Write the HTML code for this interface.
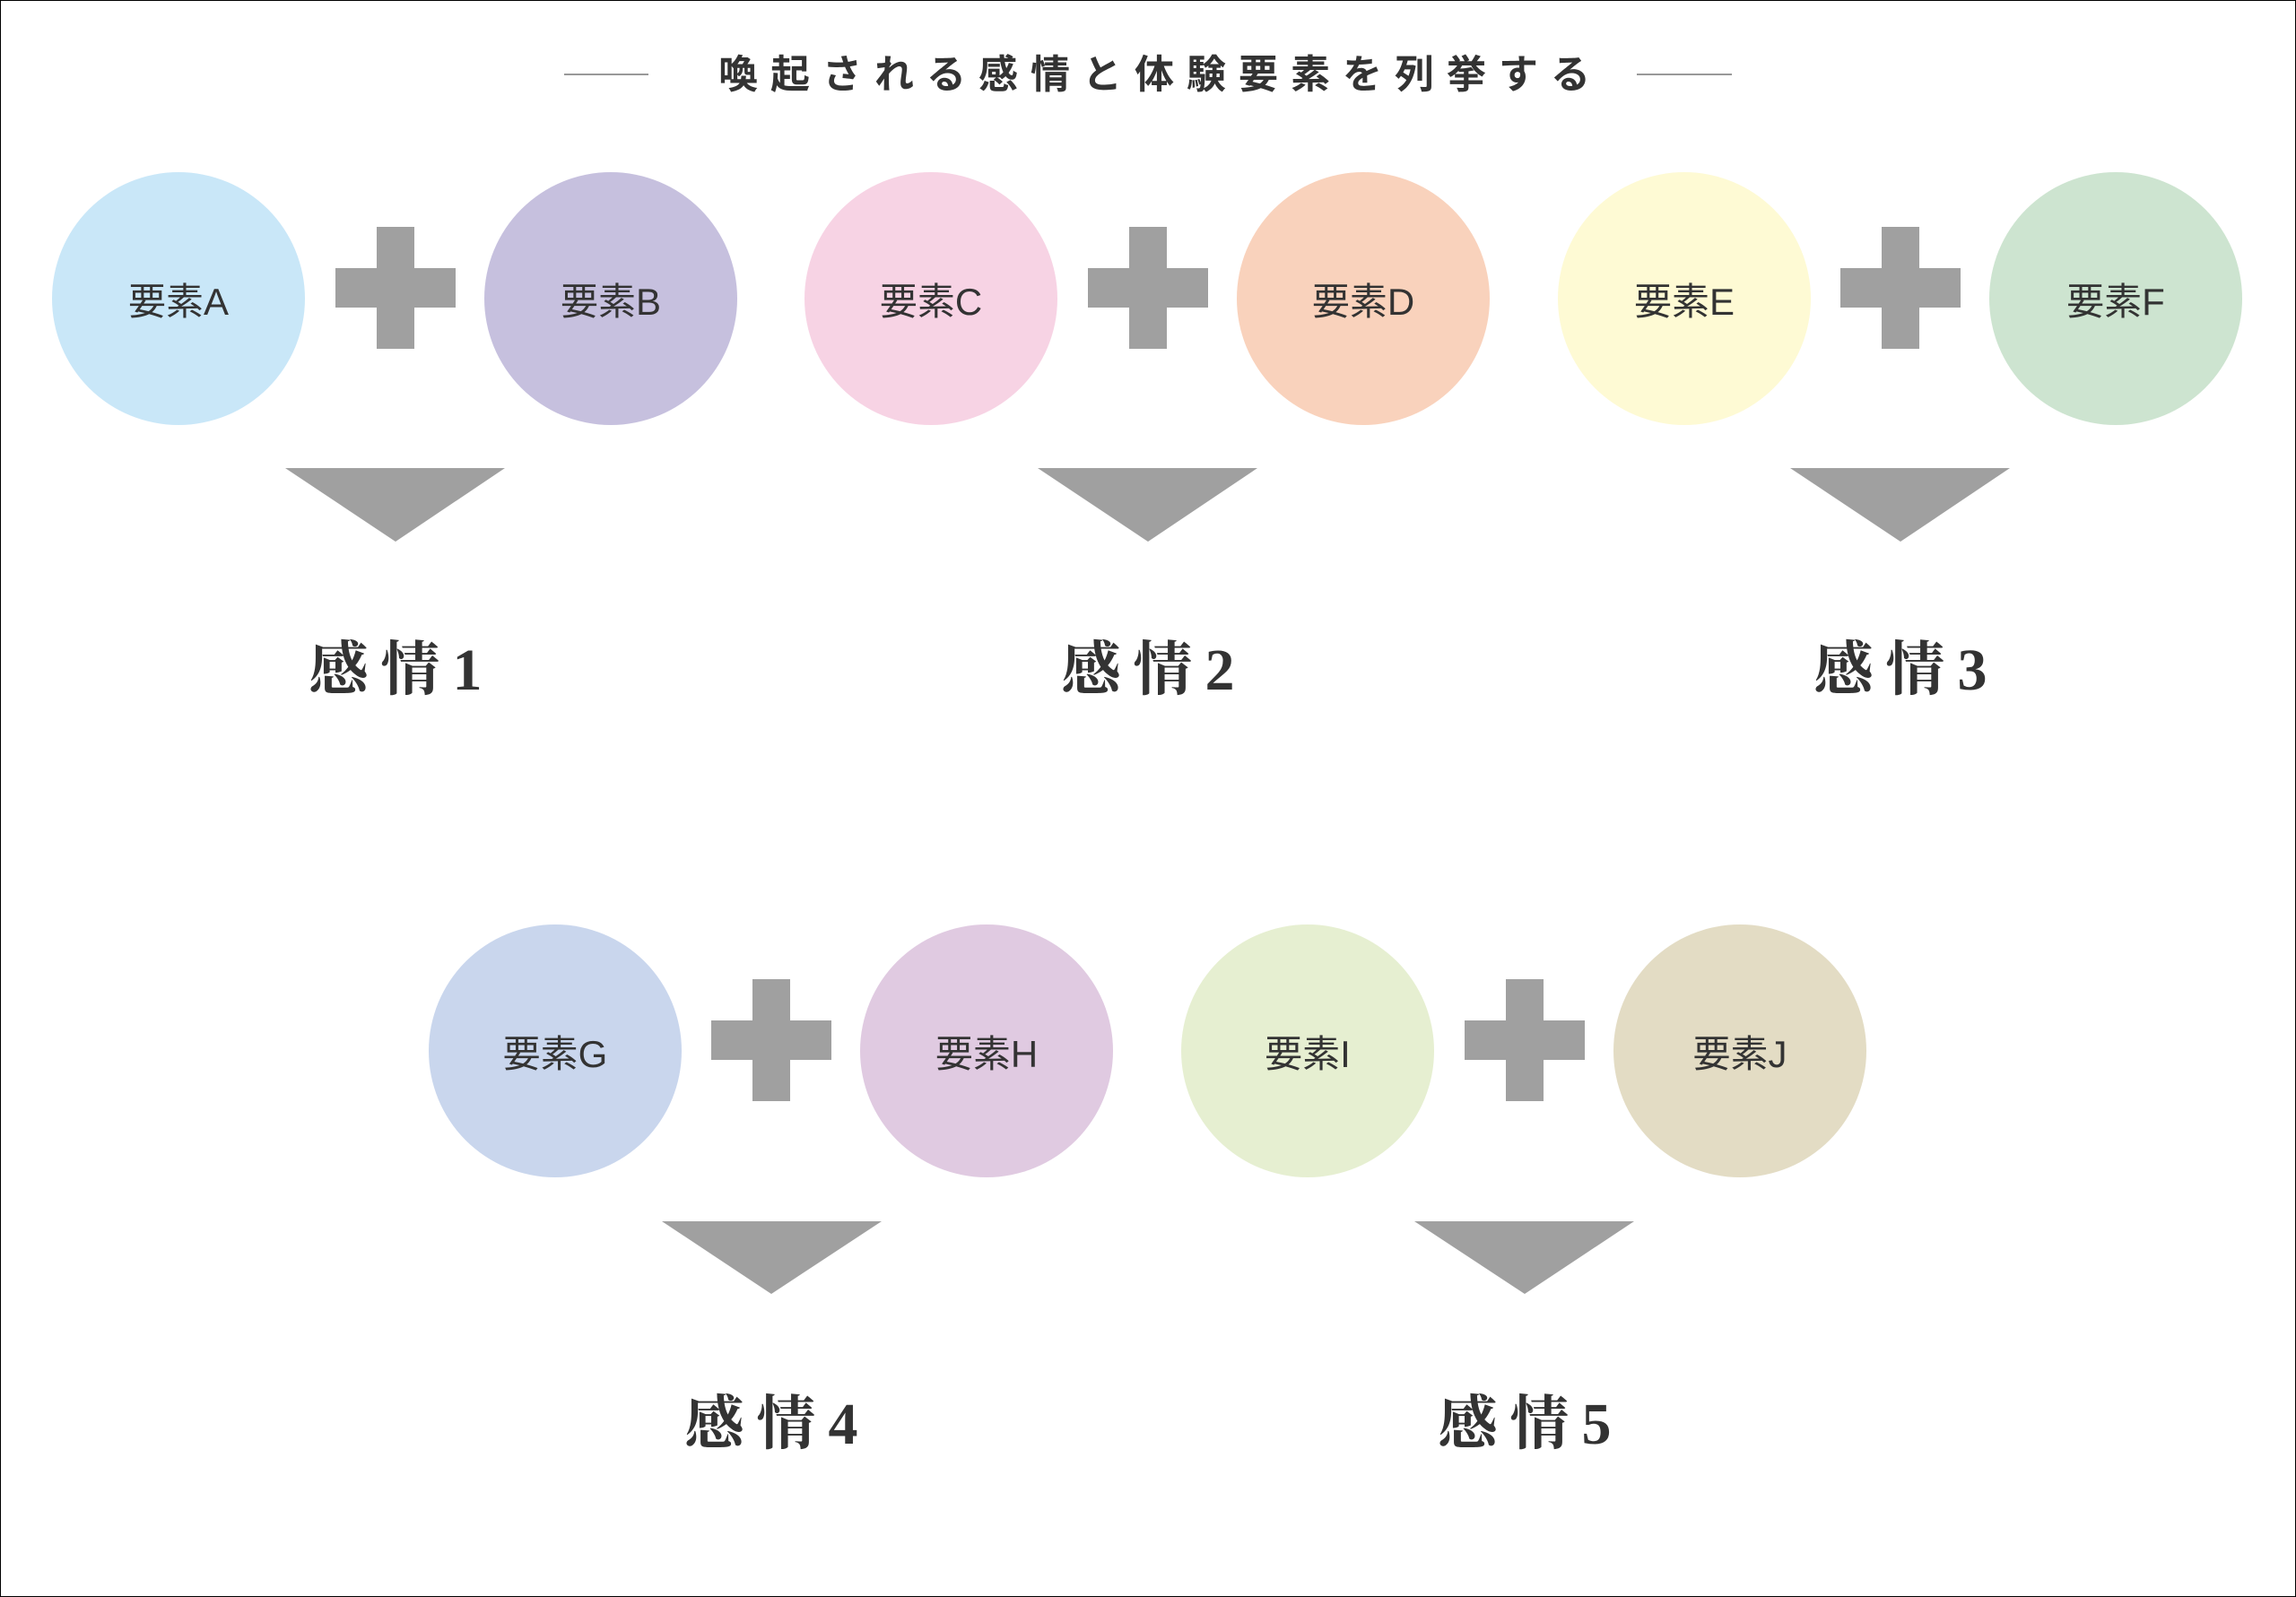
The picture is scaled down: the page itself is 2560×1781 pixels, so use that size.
<!DOCTYPE html>
<html><head><meta charset="utf-8"><style>
html,body{margin:0;padding:0}
body{width:2560px;height:1781px;position:relative;background:#fff;overflow:hidden;font-family:"Liberation Sans","Noto Sans CJK JP",sans-serif}
.frame{position:absolute;left:0;top:0;width:2558px;height:1779px;border:1px solid #000}
.t{position:absolute;left:740px;width:1080px;top:54px;text-align:center;font-size:44px;font-weight:bold;letter-spacing:14px;color:#333;line-height:60px;padding-left:14px}
.ln{position:absolute;height:2px;background:#999;top:82px}
.c{position:absolute;width:282px;height:282px;border-radius:50%;display:flex;align-items:center;justify-content:center;font-size:42px;color:#333}
.pv{position:absolute;width:42px;height:136px;background:#a0a0a0}
.ph{position:absolute;width:134px;height:44px;background:#a0a0a0}
.lb{position:absolute;width:300px;text-align:center;font-family:"Liberation Serif","Noto Serif CJK SC",serif;font-weight:bold;font-size:66px;color:#333;letter-spacing:14px;padding-left:14px;box-sizing:border-box;line-height:80px}
</style></head><body>
<div class="frame"></div>
<div class="ln" style="left:629px;width:94px"></div>
<div class="ln" style="left:1825px;width:106px"></div>
<div class="t">喚起される感情と体験要素を列挙する</div>
<svg width="2560" height="1781" style="position:absolute;left:0;top:0">
<g fill="#a0a0a0">
<polygon points="318,522 563,522 441,604"/>
<polygon points="1157,522 1402,522 1280,604"/>
<polygon points="1996,522 2241,522 2119,604"/>
<polygon points="738,1362 983,1362 860,1443"/>
<polygon points="1577,1362 1822,1362 1700,1443"/>
</g></svg>
<div class="c" style="left:58px;top:192px;background:#c9e7f8">要素A</div>
<div class="c" style="left:540px;top:192px;background:#c6c0de">要素B</div>
<div class="c" style="left:897px;top:192px;background:#f7d3e4">要素C</div>
<div class="c" style="left:1379px;top:192px;background:#f9d2bc">要素D</div>
<div class="c" style="left:1737px;top:192px;background:#fefad4">要素E</div>
<div class="c" style="left:2218px;top:192px;background:#cde4d0">要素F</div>
<div class="c" style="left:478px;top:1031px;background:#c9d6ed">要素G</div>
<div class="c" style="left:959px;top:1031px;background:#e0cae1">要素H</div>
<div class="c" style="left:1317px;top:1031px;background:#e6efd1">要素I</div>
<div class="c" style="left:1799px;top:1031px;background:#e3dcc4">要素J</div>

<div class="pv" style="left:420px;top:253px"></div><div class="ph" style="left:374px;top:299px"></div>
<div class="pv" style="left:1259px;top:253px"></div><div class="ph" style="left:1213px;top:299px"></div>
<div class="pv" style="left:2098px;top:253px"></div><div class="ph" style="left:2052px;top:299px"></div>
<div class="pv" style="left:839px;top:1092px"></div><div class="ph" style="left:793px;top:1138px"></div>
<div class="pv" style="left:1679px;top:1092px"></div><div class="ph" style="left:1633px;top:1138px"></div>

<div class="lb" style="left:291px;top:708px">感情1</div>
<div class="lb" style="left:1130px;top:708px">感情2</div>
<div class="lb" style="left:1969px;top:708px">感情3</div>
<div class="lb" style="left:710px;top:1549px">感情4</div>
<div class="lb" style="left:1550px;top:1549px">感情5</div>
</body></html>
